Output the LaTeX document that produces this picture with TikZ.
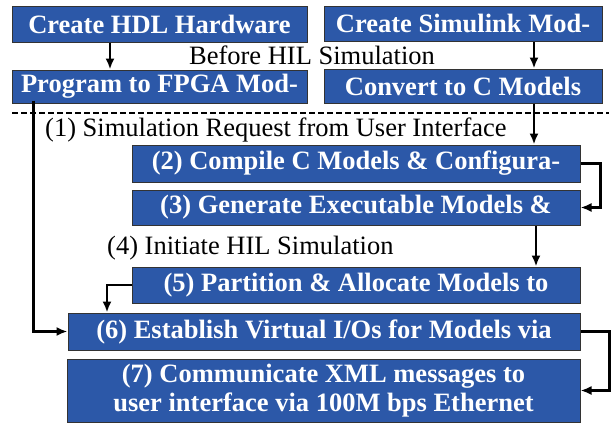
\documentclass[tikz,border=0pt]{standalone}
\usepackage{fontspec}
\setmainfont{Liberation Serif}
\usetikzlibrary{arrows.meta}
\definecolor{boxblue}{RGB}{44,88,168}

\begin{document}
\begin{tikzpicture}[x=1pt, y=-1pt,
    stage/.style = {draw=black!80, line width=1pt, fill=boxblue, text=white, inner sep=0pt, align=center,
                    font=\fontsize{26.5}{29}\selectfont\bfseries},
    note/.style = {inner sep=0pt, font=\fontsize{26.5}{29}\selectfont},
    arr/.style = {line width=2.2pt, -{Latex[length=11pt, width=9pt]}}]
      \useasboundingbox (0, 0) rectangle (615, 423);
      % before HIL simulation
      \node [stage, minimum width=295pt, minimum height=36pt] (hdl) at (159.5, 24) {Create HDL Hardware};
      \node [stage, minimum width=278pt, minimum height=35pt] (slk) at (463, 23.5) {Create Simulink Mod-};
      \node [stage, minimum width=295pt, minimum height=33pt] (fpga) at (159.5, 86.5) {Program to FPGA Mod-};
      \node [stage, minimum width=278pt, minimum height=34pt] (conv) at (463, 86) {Convert to C Models};
      \node [note] (before) at (312, 55) {Before HIL Simulation};
      \coordinate (sepl) at (12, 113);
      \coordinate (sepr) at (609, 113);
      \draw [line width=1.8pt, dash pattern=on 6pt off 3pt] (sepl) -- (sepr);
      % HIL simulation
      \node [note, anchor=west] (req) at (45, 130) {(1) Simulation Request from User Interface};
      \node [stage, minimum width=448pt, minimum height=37pt] (comp) at (356, 163.5) {(2) Compile C Models \& Configura-};
      \node [stage, minimum width=448pt, minimum height=35pt] (gen) at (356, 207.5) {(3) Generate Executable Models \&};
      \node [note, anchor=west] (init) at (107, 248) {(4) Initiate HIL Simulation};
      \node [stage, minimum width=448pt, minimum height=36pt] (part) at (356, 285) {(5) Partition \& Allocate Models to};
      \node [stage, minimum width=512pt, minimum height=37pt] (vio) at (324, 331.5) {(6) Establish Virtual I/Os for Models via};
      \node [stage, minimum width=513pt, minimum height=63pt] (xml) at (323.5, 390.5) {(7) Communicate XML messages to\\user interface via 100M bps Ethernet};

      \draw [arr] (hdl.south -| 110, 0) -- (fpga.north -| 110, 0);
      \draw [arr] (slk.south -| 534, 0) -- (conv.north -| 534, 0);
      \draw [arr] (conv.south -| 534, 0) -- (comp.north -| 534, 0);
      \draw [arr] (gen.south -| 536, 0) -- (part.north -| 536, 0);
      \draw [arr] (comp.east) -- ++(20, 0) |- (gen.east);
      \draw [arr] (vio.east) -- ++(29, 0) |- (xml.east);
      \draw [arr] (part.west) -| (vio.north -| 107, 0);
      \draw [arr] ([xshift=22pt, yshift=3pt] fpga.south west) |- (vio.west);
\end{tikzpicture}
\end{document}
